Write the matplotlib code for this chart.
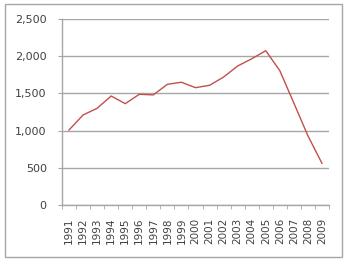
import numpy as np
import matplotlib
matplotlib.use("Agg")
import matplotlib.pyplot as plt
from matplotlib.patches import Rectangle

years = [str(y) for y in range(1991, 2010)]
values = [1008, 1210, 1300, 1465, 1362, 1488, 1480, 1622, 1650, 1577,
          1609, 1720, 1868, 1965, 2074, 1805, 1370, 930, 560]
yticks = [0, 500, 1000, 1500, 2000, 2500]

grey = "#a6a6a6"
txt = "#404040"

fig = plt.figure(figsize=(3.5, 2.61), dpi=100)
fig.patches.append(Rectangle((5 / 350, 4 / 261), 337 / 350, 253 / 261,
                             transform=fig.transFigure, fill=False,
                             edgecolor=grey, linewidth=1.0))

ax = fig.add_axes([62 / 350, 1 - 205 / 261, 267 / 350, 186 / 261])
x = np.arange(len(years))
ax.plot(x, values, color="#c0504d", linewidth=1.0)

ax.set_xlim(-0.5, len(years) - 0.5)
ax.set_ylim(0, 2500)
ax.set_yticks(yticks)
ax.set_yticklabels([f"{v:,}" for v in yticks], fontsize=8, color=txt)
ax.yaxis.grid(True, color=grey, linewidth=1.0)
ax.set_axisbelow(True)

ax.set_xticks(x)
ax.set_xticklabels(years, rotation=90, fontsize=7.5, color=txt)
ax.set_xticks(np.arange(-0.5, len(years)), minor=True)
ax.tick_params(axis="x", which="major", length=0, pad=9)
ax.tick_params(axis="x", which="minor", length=3, color=grey, direction="out")
ax.tick_params(axis="y", length=3, color=grey, pad=8)

for s in ["top", "right"]:
    ax.spines[s].set_visible(False)
for s in ["left", "bottom"]:
    ax.spines[s].set_color(grey)
    ax.spines[s].set_linewidth(1.0)

fig.savefig("out.png", dpi=100)
